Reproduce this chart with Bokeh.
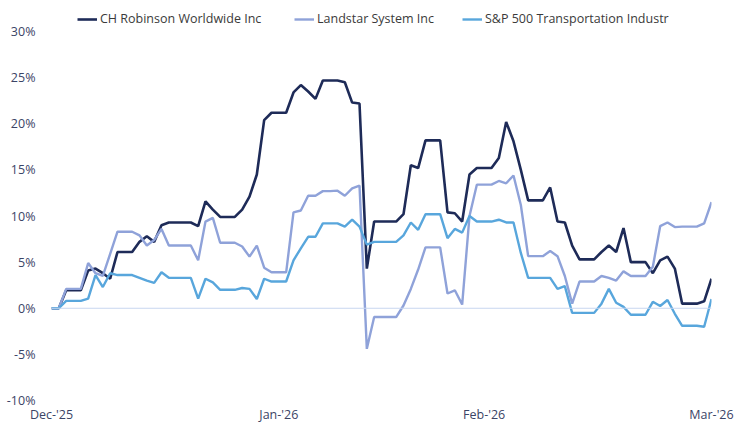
from bokeh.plotting import figure
from bokeh.models import Range1d, FixedTicker, Span, Legend, LegendItem
from bokeh.embed import file_html
from bokeh.resources import INLINE

# daily index 0..90
chrw = [0, 0, 1.95, 1.95, 1.95, 4.1, 4.3, 3.8, 3.2, 6.1,
        6.1, 6.1, 7.2, 7.8, 7.2, 9.0, 9.3, 9.3, 9.3, 9.3,
        8.9, 11.6, 10.7, 9.9, 9.9, 9.9, 10.7, 12.1, 14.5, 20.4,
        21.2, 21.2, 21.2, 23.4, 24.2, 23.5, 22.7, 24.7, 24.7, 24.7,
        24.5, 22.3, 22.2, 4.3, 9.4, 9.4, 9.4, 9.4, 10.2, 15.5,
        15.2, 18.2, 18.2, 18.2, 10.4, 10.3, 9.4, 14.5, 15.2, 15.2,
        15.2, 16.3, 20.2, 18.1, 15.0, 11.7, 11.7, 11.7, 13.1, 9.4,
        9.3, 6.8, 5.3, 5.3, 5.3, 6.1, 6.8, 6.1, 8.7, 5.0,
        5.0, 5.0, 3.8, 5.2, 5.6, 4.3, 0.5, 0.5, 0.5, 0.75,
        3.2]
lstr = [0, 0, 2.1, 2.1, 2.1, 4.9, 3.8, 3.5, 5.9, 8.3,
        8.3, 8.3, 7.9, 6.8, 7.4, 8.6, 6.8, 6.8, 6.8, 6.8,
        5.2, 9.4, 9.8, 7.1, 7.1, 7.1, 6.7, 5.6, 6.8, 4.4,
        3.9, 3.9, 3.9, 10.4, 10.6, 12.2, 12.2, 12.7, 12.7, 12.75,
        12.2, 13.0, 13.3, -4.4, -0.95, -0.95, -0.95, -0.95, 0.3, 2.1,
        4.2, 6.6, 6.6, 6.6, 1.6, 1.95, 0.4, 10.0, 13.4, 13.4,
        13.4, 13.8, 13.55, 14.4, 11.2, 5.65, 5.65, 5.65, 6.2, 5.65,
        3.5, 0.5, 2.9, 2.9, 2.9, 3.5, 3.3, 3.0, 4.0, 3.5,
        3.5, 3.5, 4.5, 8.9, 9.3, 8.8, 8.85, 8.85, 8.85, 9.2,
        11.5]
spx = [0, 0, 0.8, 0.8, 0.8, 1.05, 3.6, 2.3, 3.8, 3.6,
       3.6, 3.6, 3.3, 3.0, 2.75, 3.9, 3.3, 3.3, 3.3, 3.3,
       1.05, 3.2, 2.8, 2.0, 2.0, 2.0, 2.2, 2.1, 1.0, 3.2,
       2.9, 2.9, 2.9, 5.2, 6.5, 7.75, 7.75, 9.2, 9.2, 9.2,
       8.85, 9.6, 8.85, 6.9, 7.2, 7.2, 7.2, 7.2, 7.9, 9.3,
       8.5, 10.2, 10.2, 10.2, 7.6, 8.6, 8.2, 10.0, 9.4, 9.4,
       9.4, 9.6, 9.3, 9.3, 6.0, 3.3, 3.3, 3.3, 3.3, 2.1,
       2.4, -0.5, -0.5, -0.5, -0.5, 0.5, 2.1, 0.6, 0.15, -0.7,
       -0.7, -0.7, 0.7, 0.25, 0.9, -0.6, -1.9, -1.9, -1.9, -2.0,
       1.0]
idx = list(range(len(chrw)))

series_names = ["CH Robinson Worldwide Inc", "Landstar System Inc",
                "S&P 500 Transportation Industr"]
x_tick_pos = [0, 31, 59, 90]
x_tick_labels = ["Dec-'25", "Jan-'26", "Feb-'26", "Mar-'26"]
y_ticks = [-10, -5, 0, 5, 10, 15, 20, 25, 30]

FONT = "Open Sans"
AXIS_COLOR = "#3b4466"
FRAME_W, FRAME_H = 660, 392

p = figure(frame_width=FRAME_W, frame_height=FRAME_H,
           output_backend="svg", toolbar_location=None,
           x_range=Range1d(0, 90), y_range=Range1d(-10, 32.5),
           min_border_left=51, min_border_right=33, min_border_top=8,
           min_border_bottom=20)
p.outline_line_color = None
p.xgrid.visible = False
p.ygrid.visible = False
p.background_fill_color = "white"
p.border_fill_color = "white"

p.add_layout(Span(location=0, dimension="width", line_color="#c8d6f0", line_width=1))

renderers = [
    p.line(idx, chrw, line_color="#1e2b58", line_width=2.6),
    p.line(idx, lstr, line_color="#8fa2d9", line_width=2.4),
    p.line(idx, spx, line_color="#58a6dc", line_width=2.4),
]

for ax in (p.xaxis[0], p.yaxis[0]):
    ax.axis_line_color = None
    ax.major_tick_line_color = None
    ax.minor_tick_line_color = None
    ax.major_tick_out = 0
    ax.major_tick_in = 0
    ax.minor_tick_out = 0
    ax.minor_tick_in = 0
    ax.major_label_text_font = FONT
    ax.major_label_text_font_size = "12.5px"
    ax.major_label_text_color = AXIS_COLOR

p.xaxis.ticker = FixedTicker(ticks=x_tick_pos)
p.xaxis.major_label_overrides = {t: l for t, l in zip(x_tick_pos, x_tick_labels)}
p.xaxis.major_label_standoff = 5
p.yaxis.ticker = FixedTicker(ticks=y_ticks)
p.yaxis.major_label_overrides = {t: f"{t}%" for t in y_ticks}
p.yaxis.major_label_standoff = 16

# one legend per entry so each sits where the reference puts it
leg_x = [26, 243, 411]
LEG_H = 18
for name, r, lx in zip(series_names, renderers, leg_x):
    lg = Legend(items=[LegendItem(label=name, renderers=[r])],
                location=(lx, FRAME_H - LEG_H - 1),
                label_text_font=FONT, label_text_font_size="12.5px",
                label_text_color="#3a3a3a", glyph_width=20, glyph_height=12,
                label_standoff=3, padding=2, margin=0,
                border_line_color=None, background_fill_alpha=0,
                label_height=14)
    p.add_layout(lg)

open("out.html", "w").write(file_html(p, INLINE))
